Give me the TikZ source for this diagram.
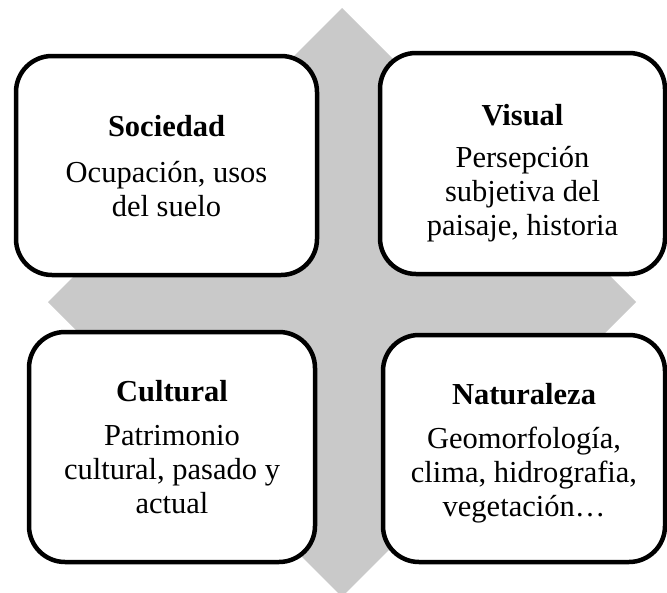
\documentclass[tikz,border=0pt]{standalone}
\usepackage{fontspec}
\setmainfont{Liberation Serif}
\definecolor{gris}{HTML}{C9C9C9}
\begin{document}
\begin{tikzpicture}[x=1pt,y=-1pt,
	caja/.style={draw=black,line width=4.5pt,fill=white,rounded corners=36pt,inner sep=0pt},
	texto/.style={align=center,inner sep=0pt,font=\fontsize{30.5}{34}\selectfont}]
		\useasboundingbox (0,0) rectangle (667,592);
		\fill[gris] (342,8)--(636,302)--(342,597)--(48,302)--cycle;
		\node[caja,minimum width=301pt,minimum height=219pt] (soc) at (166.5,165.5) {};
		\node[caja,minimum width=285pt,minimum height=221pt] (vis) at (522.5,163.5) {};
		\node[caja,minimum width=286pt,minimum height=230pt] (cul) at (172,447) {};
		\node[caja,minimum width=282pt,minimum height=227pt] (nat) at (524,448.5) {};
		\node[texto] (tsoc) at ([yshift=-1pt]soc.center) {\textbf{Sociedad}\\[12pt]Ocupación, usos\\del suelo};
		\node[texto] (tvis) at ([yshift=-10pt]vis.center) {\textbf{Visual}\\[8pt]Persepción\\subjetiva del\\paisaje, historia};
		\node[texto] (tcul) at (cul.center) {\textbf{Cultural}\\[10pt]Patrimonio\\cultural, pasado y\\actual};
		\node[texto] (tnat) at ([yshift=-5pt]nat.center) {\textbf{Naturaleza}\\[10pt]Geomorfología,\\clima, hidrografia,\\vegetación\ldots};
		%\draw[ultra thin,cyan](0,0)grid[step=50](667,592);
		\end{tikzpicture}
\end{document}
